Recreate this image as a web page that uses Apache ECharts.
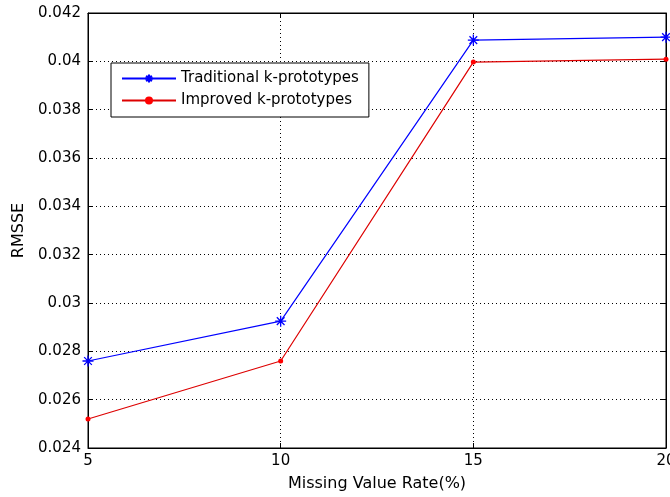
<!DOCTYPE html>
<html><head><meta charset="utf-8">
<script src="https://cdn.jsdelivr.net/npm/echarts@6/dist/echarts.min.js"></script>
<style>html,body{margin:0;padding:0;background:#fff}#c{width:670px;height:497px}</style>
</head><body><div id="c"></div>
<script>
const categories = [5, 10, 15, 20];
const traditional = [0.0276, 0.02925, 0.04088, 0.0410];
const improved = [0.0252, 0.0276, 0.03997, 0.04009];
const yTicks = [0.024, 0.026, 0.028, 0.03, 0.032, 0.034, 0.036, 0.038, 0.04, 0.042];

const chart = echarts.init(document.getElementById('c'));
const font = 'DejaVu Sans, Liberation Sans, sans-serif';
const gridLine = {show: true, lineStyle: {color: '#000', type: [1, 3], width: 1}};
const star = 'path://M0,-10L0,10M-10,0L10,0M-7,-7L7,7M-7,7L7,-7';
chart.setOption({
  animation: false,
  grid: {left: 88, right: 4, top: 13, bottom: 49, show: true, borderColor: '#000', borderWidth: 1,
         outerBoundsMode: 'none', containLabel: false},
  legend: {
    orient: 'vertical', left: 111, top: 63, itemWidth: 54, itemHeight: 10, itemGap: 7,
    backgroundColor: '#fff', borderColor: '#000', borderWidth: 1, padding: [8, 10, 9, 10],
    textStyle: {fontFamily: font, fontSize: 15, color: '#000'},
    data: ['Traditional k-prototypes', 'Improved k-prototypes']
  },
  xAxis: [{
    type: 'value', min: 5, max: 20, interval: 5,
    name: 'Missing Value Rate(%)', nameLocation: 'middle', nameGap: 28,
    nameTextStyle: {fontFamily: font, fontSize: 16, color: '#000'},
    axisLine: {lineStyle: {color: '#000'}},
    axisTick: {inside: true, length: 5, lineStyle: {color: '#000'}},
    axisLabel: {fontFamily: font, fontSize: 15, color: '#000', margin: 6, hideOverlap: false},
    splitLine: gridLine
  }, {
    type: 'value', position: 'top', min: 5, max: 20, interval: 5,
    axisLine: {show: true, lineStyle: {color: '#000'}},
    axisTick: {inside: true, length: 5, lineStyle: {color: '#000'}},
    axisLabel: {show: false}, splitLine: {show: false}
  }],
  yAxis: [{
    type: 'value', min: 0.024, max: 0.042, interval: 0.002,
    name: 'RMSSE', nameLocation: 'middle', nameGap: 60,
    nameTextStyle: {fontFamily: font, fontSize: 16, color: '#000'},
    axisLine: {show: true, lineStyle: {color: '#000'}},
    axisTick: {show: true, inside: true, length: 5, lineStyle: {color: '#000'}},
    axisLabel: {fontFamily: font, fontSize: 15, color: '#000', margin: 7,
      formatter: v => String(+v.toFixed(3))},
    splitLine: gridLine
  }, {
    type: 'value', position: 'right', min: 0.024, max: 0.042, interval: 0.002,
    axisLine: {show: true, lineStyle: {color: '#000'}},
    axisTick: {show: true, inside: true, length: 5, lineStyle: {color: '#000'}},
    axisLabel: {show: false}, splitLine: {show: false}
  }],
  series: [{
    name: 'Traditional k-prototypes', type: 'line',
    data: categories.map((c, i) => [c, traditional[i]]),
    symbol: star, symbolSize: 11, showAllSymbol: true, clip: false,
    lineStyle: {color: '#0000ff', width: 1.2},
    itemStyle: {color: '#0000ff', borderColor: '#0000ff', borderWidth: 1.3}
  }, {
    name: 'Improved k-prototypes', type: 'line',
    data: categories.map((c, i) => [c, improved[i]]),
    symbol: 'circle', symbolSize: 5, clip: false,
    lineStyle: {color: '#dd0000', width: 1.2},
    itemStyle: {color: '#ff0000', borderWidth: 0}
  }]
});
</script></body></html>
